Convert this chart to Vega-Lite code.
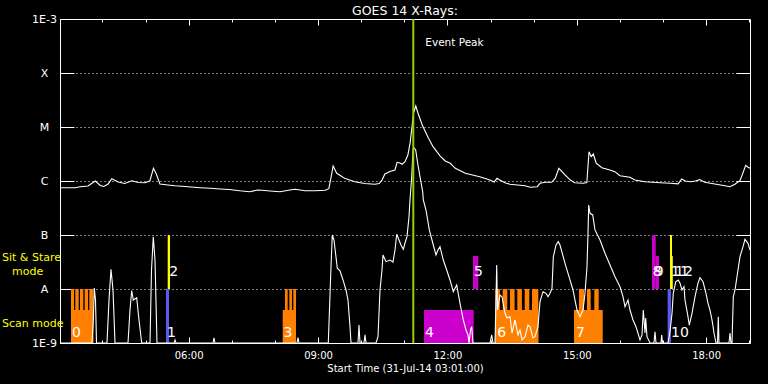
{
  "$schema": "https://vega.github.io/schema/vega-lite/v6.json",
  "width": 690,
  "height": 324,
  "autosize": {"type": "none"},
  "padding": {"left": 60, "top": 19, "right": 18, "bottom": 41},
  "background": "black",
  "title": {"text": "GOES 14 X-Rays:", "color": "white", "font": "DejaVu Sans", "fontSize": 12.5, "fontWeight": "normal", "anchor": "middle", "baseline": "alphabetic", "offset": 5, "dy": 19},
  "config": {
    "view": {"stroke": "white", "strokeWidth": 1},
    "axis": {"domain": false, "grid": false, "tickColor": "white", "tickWidth": 1, "labelColor": "white", "labelFont": "DejaVu Sans", "titleColor": "white", "titleFont": "DejaVu Sans", "titleFontWeight": "normal"}
  },
  "datasets": {
    "obs": [
      {"id": "0", "program": "P1", "t0": "2014-07-31T03:16:18", "t1": "2014-07-31T03:47:20", "lo": 1e-9, "hi": 4.08e-9},
      {"id": "0", "program": "P1", "t0": "2014-07-31T03:16:18", "t1": "2014-07-31T03:20:29", "lo": 1e-9, "hi": 1e-8},
      {"id": "0", "program": "P1", "t0": "2014-07-31T03:22:17", "t1": "2014-07-31T03:27:01", "lo": 1e-9, "hi": 1e-8},
      {"id": "0", "program": "P1", "t0": "2014-07-31T03:28:50", "t1": "2014-07-31T03:33:25", "lo": 1e-9, "hi": 1e-8},
      {"id": "0", "program": "P1", "t0": "2014-07-31T03:35:22", "t1": "2014-07-31T03:39:58", "lo": 1e-9, "hi": 1e-8},
      {"id": "0", "program": "P1", "t0": "2014-07-31T03:41:46", "t1": "2014-07-31T03:47:20", "lo": 1e-9, "hi": 1e-8},
      {"id": "1", "program": "P2", "t0": "2014-07-31T05:28:29", "t1": "2014-07-31T05:32:39", "lo": 1e-9, "hi": 1e-8},
      {"id": "2", "program": "P3", "t0": "2014-07-31T05:30:50", "t1": "2014-07-31T05:34:02", "lo": 1e-8, "hi": 1e-7},
      {"id": "3", "program": "P1", "t0": "2014-07-31T08:10:50", "t1": "2014-07-31T08:29:21", "lo": 1e-9, "hi": 4.08e-9},
      {"id": "3", "program": "P1", "t0": "2014-07-31T08:14:02", "t1": "2014-07-31T08:17:48", "lo": 1e-9, "hi": 1e-8},
      {"id": "3", "program": "P1", "t0": "2014-07-31T08:20:02", "t1": "2014-07-31T08:23:47", "lo": 1e-9, "hi": 1e-8},
      {"id": "3", "program": "P1", "t0": "2014-07-31T08:25:35", "t1": "2014-07-31T08:29:21", "lo": 1e-9, "hi": 1e-8},
      {"id": "4", "program": "P4", "t0": "2014-07-31T11:27:26", "t1": "2014-07-31T12:36:35", "lo": 1e-9, "hi": 4.08e-9},
      {"id": "5", "program": "P4", "t0": "2014-07-31T12:35:37", "t1": "2014-07-31T12:42:59", "lo": 1e-8, "hi": 4.08e-8},
      {"id": "6", "program": "P1", "t0": "2014-07-31T13:06:13", "t1": "2014-07-31T14:06:28", "lo": 1e-9, "hi": 4.08e-9},
      {"id": "6", "program": "P1", "t0": "2014-07-31T13:06:38", "t1": "2014-07-31T13:13:02", "lo": 1e-9, "hi": 1e-8},
      {"id": "6", "program": "P1", "t0": "2014-07-31T13:16:55", "t1": "2014-07-31T13:23:19", "lo": 1e-9, "hi": 1e-8},
      {"id": "6", "program": "P1", "t0": "2014-07-31T13:27:05", "t1": "2014-07-31T13:33:29", "lo": 1e-9, "hi": 1e-8},
      {"id": "6", "program": "P1", "t0": "2014-07-31T13:37:14", "t1": "2014-07-31T13:43:38", "lo": 1e-9, "hi": 1e-8},
      {"id": "6", "program": "P1", "t0": "2014-07-31T13:47:32", "t1": "2014-07-31T13:53:56", "lo": 1e-9, "hi": 1e-8},
      {"id": "6", "program": "P1", "t0": "2014-07-31T13:57:41", "t1": "2014-07-31T14:06:28", "lo": 1e-9, "hi": 1e-8},
      {"id": "7", "program": "P1", "t0": "2014-07-31T14:56:08", "t1": "2014-07-31T15:36:04", "lo": 1e-9, "hi": 4.08e-9},
      {"id": "7", "program": "P1", "t0": "2014-07-31T15:03:05", "t1": "2014-07-31T15:10:02", "lo": 1e-9, "hi": 1e-8},
      {"id": "7", "program": "P1", "t0": "2014-07-31T15:14:13", "t1": "2014-07-31T15:19:22", "lo": 1e-9, "hi": 1e-8},
      {"id": "7", "program": "P1", "t0": "2014-07-31T15:24:22", "t1": "2014-07-31T15:30:29", "lo": 1e-9, "hi": 1e-8},
      {"id": "8", "program": "P4", "t0": "2014-07-31T16:44:39", "t1": "2014-07-31T16:49:48", "lo": 1e-8, "hi": 1e-7},
      {"id": "9", "program": "P4", "t0": "2014-07-31T16:49:48", "t1": "2014-07-31T16:54:23", "lo": 1e-8, "hi": 4.08e-8},
      {"id": "10", "program": "P2", "t0": "2014-07-31T17:06:26", "t1": "2014-07-31T17:11:02", "lo": 1e-9, "hi": 1e-8},
      {"id": "11", "program": "P3", "t0": "2014-07-31T17:09:42", "t1": "2014-07-31T17:12:29", "lo": 1e-8, "hi": 1e-7},
      {"id": "12", "program": "P3", "t0": "2014-07-31T17:11:47", "t1": "2014-07-31T17:13:36", "lo": 1e-8, "hi": 4.08e-8}
    ],
    "long": [
      {"t": "2014-07-31T03:01:00", "f": 7.52e-7}, {"t": "2014-07-31T03:22:00", "f": 7.52e-7}, {"t": "2014-07-31T03:29:00", "f": 7.84e-7},
      {"t": "2014-07-31T03:40:00", "f": 8.08e-7}, {"t": "2014-07-31T03:50:00", "f": 1.0e-6}, {"t": "2014-07-31T03:57:00", "f": 8.26e-7},
      {"t": "2014-07-31T04:02:00", "f": 7.91e-7}, {"t": "2014-07-31T04:08:00", "f": 8.8e-7}, {"t": "2014-07-31T04:13:00", "f": 1.10e-6},
      {"t": "2014-07-31T04:22:00", "f": 9.58e-7}, {"t": "2014-07-31T04:31:00", "f": 8.99e-7}, {"t": "2014-07-31T04:41:00", "f": 1.01e-6},
      {"t": "2014-07-31T04:50:00", "f": 9.38e-7}, {"t": "2014-07-31T04:59:00", "f": 9.3e-7}, {"t": "2014-07-31T05:06:00", "f": 1.0e-6},
      {"t": "2014-07-31T05:11:00", "f": 1.72e-6}, {"t": "2014-07-31T05:15:00", "f": 1.35e-6}, {"t": "2014-07-31T05:20:00", "f": 8.8e-7},
      {"t": "2014-07-31T05:31:00", "f": 8.44e-7}, {"t": "2014-07-31T05:41:00", "f": 8.18e-7}, {"t": "2014-07-31T05:55:00", "f": 7.91e-7},
      {"t": "2014-07-31T06:16:00", "f": 7.52e-7}, {"t": "2014-07-31T06:30:00", "f": 7.33e-7}, {"t": "2014-07-31T06:44:00", "f": 7.11e-7},
      {"t": "2014-07-31T06:57:00", "f": 6.97e-7}, {"t": "2014-07-31T07:11:00", "f": 6.61e-7}, {"t": "2014-07-31T07:25:00", "f": 6.34e-7},
      {"t": "2014-07-31T07:36:00", "f": 6.81e-7}, {"t": "2014-07-31T07:42:00", "f": 6.73e-7}, {"t": "2014-07-31T07:53:00", "f": 6.53e-7},
      {"t": "2014-07-31T08:07:00", "f": 6.34e-7}, {"t": "2014-07-31T08:21:00", "f": 6.81e-7}, {"t": "2014-07-31T08:28:00", "f": 7.02e-7},
      {"t": "2014-07-31T08:42:00", "f": 6.61e-7}, {"t": "2014-07-31T08:56:00", "f": 6.61e-7}, {"t": "2014-07-31T09:10:00", "f": 6.73e-7},
      {"t": "2014-07-31T09:15:00", "f": 7.2e-7}, {"t": "2014-07-31T09:18:00", "f": 1.14e-6}, {"t": "2014-07-31T09:21:00", "f": 1.90e-6},
      {"t": "2014-07-31T09:26:00", "f": 1.39e-6}, {"t": "2014-07-31T09:32:00", "f": 1.24e-6}, {"t": "2014-07-31T09:37:00", "f": 1.12e-6},
      {"t": "2014-07-31T09:51:00", "f": 9.71e-7}, {"t": "2014-07-31T10:05:00", "f": 8.99e-7}, {"t": "2014-07-31T10:19:00", "f": 8.69e-7},
      {"t": "2014-07-31T10:25:00", "f": 8.99e-7}, {"t": "2014-07-31T10:29:00", "f": 1.04e-6}, {"t": "2014-07-31T10:33:00", "f": 1.35e-6},
      {"t": "2014-07-31T10:40:00", "f": 1.50e-6}, {"t": "2014-07-31T10:47:00", "f": 1.60e-6}, {"t": "2014-07-31T10:50:00", "f": 2.22e-6},
      {"t": "2014-07-31T10:54:00", "f": 2.16e-6}, {"t": "2014-07-31T10:57:00", "f": 2.04e-6}, {"t": "2014-07-31T11:01:00", "f": 2.28e-6},
      {"t": "2014-07-31T11:05:00", "f": 3.03e-6}, {"t": "2014-07-31T11:08:00", "f": 4.99e-6}, {"t": "2014-07-31T11:11:00", "f": 1.09e-5},
      {"t": "2014-07-31T11:13:00", "f": 1.82e-5}, {"t": "2014-07-31T11:16:00", "f": 2.45e-5}, {"t": "2014-07-31T11:19:00", "f": 1.82e-5},
      {"t": "2014-07-31T11:25:00", "f": 1.09e-5}, {"t": "2014-07-31T11:33:00", "f": 6.45e-6}, {"t": "2014-07-31T11:40:00", "f": 4.32e-6},
      {"t": "2014-07-31T11:50:00", "f": 2.90e-6}, {"t": "2014-07-31T11:57:00", "f": 2.35e-6}, {"t": "2014-07-31T12:04:00", "f": 2.13e-6},
      {"t": "2014-07-31T12:11:00", "f": 1.72e-6}, {"t": "2014-07-31T12:25:00", "f": 1.39e-6}, {"t": "2014-07-31T12:45:00", "f": 1.20e-6},
      {"t": "2014-07-31T12:59:00", "f": 1.04e-6}, {"t": "2014-07-31T13:05:00", "f": 9.58e-7}, {"t": "2014-07-31T13:09:00", "f": 1.12e-6},
      {"t": "2014-07-31T13:13:00", "f": 1.04e-6}, {"t": "2014-07-31T13:20:00", "f": 9.3e-7}, {"t": "2014-07-31T13:27:00", "f": 8.69e-7},
      {"t": "2014-07-31T13:48:00", "f": 8.18e-7}, {"t": "2014-07-31T13:55:00", "f": 7.64e-7}, {"t": "2014-07-31T14:05:00", "f": 7.84e-7},
      {"t": "2014-07-31T14:09:00", "f": 9.06e-7}, {"t": "2014-07-31T14:16:00", "f": 9.46e-7}, {"t": "2014-07-31T14:25:00", "f": 9.46e-7},
      {"t": "2014-07-31T14:30:00", "f": 1.12e-6}, {"t": "2014-07-31T14:35:00", "f": 1.72e-6}, {"t": "2014-07-31T14:44:00", "f": 1.29e-6},
      {"t": "2014-07-31T14:51:00", "f": 1.04e-6}, {"t": "2014-07-31T14:57:00", "f": 9.3e-7}, {"t": "2014-07-31T15:09:00", "f": 9.06e-7},
      {"t": "2014-07-31T15:14:00", "f": 9.38e-7}, {"t": "2014-07-31T15:17:00", "f": 3.49e-6}, {"t": "2014-07-31T15:20:00", "f": 2.82e-6},
      {"t": "2014-07-31T15:23:00", "f": 3.16e-6}, {"t": "2014-07-31T15:27:00", "f": 2.13e-6}, {"t": "2014-07-31T15:35:00", "f": 1.76e-6},
      {"t": "2014-07-31T15:46:00", "f": 1.60e-6}, {"t": "2014-07-31T15:53:00", "f": 1.49e-6}, {"t": "2014-07-31T16:00:00", "f": 1.25e-6},
      {"t": "2014-07-31T16:14:00", "f": 1.17e-6}, {"t": "2014-07-31T16:21:00", "f": 1.04e-6}, {"t": "2014-07-31T16:35:00", "f": 9.71e-7},
      {"t": "2014-07-31T16:56:00", "f": 9.3e-7}, {"t": "2014-07-31T17:10:00", "f": 9.06e-7}, {"t": "2014-07-31T17:21:00", "f": 8.87e-7},
      {"t": "2014-07-31T17:26:00", "f": 1.09e-6}, {"t": "2014-07-31T17:31:00", "f": 1.0e-6}, {"t": "2014-07-31T17:38:00", "f": 9.71e-7},
      {"t": "2014-07-31T17:45:00", "f": 1.0e-6}, {"t": "2014-07-31T17:51:00", "f": 1.06e-6}, {"t": "2014-07-31T17:58:00", "f": 9.46e-7},
      {"t": "2014-07-31T18:12:00", "f": 8.8e-7}, {"t": "2014-07-31T18:26:00", "f": 8.18e-7}, {"t": "2014-07-31T18:33:00", "f": 7.84e-7},
      {"t": "2014-07-31T18:40:00", "f": 8.69e-7}, {"t": "2014-07-31T18:47:00", "f": 1.01e-6}, {"t": "2014-07-31T18:51:00", "f": 1.39e-6},
      {"t": "2014-07-31T18:55:00", "f": 1.95e-6}, {"t": "2014-07-31T18:58:00", "f": 1.82e-6}, {"t": "2014-07-31T19:01:00", "f": 1.72e-6}
    ],
    "short": [
      {"t": "2014-07-31T03:01:00", "f": 1e-9}, {"t": "2014-07-31T03:45:31", "f": 1e-9}, {"t": "2014-07-31T03:47:20", "f": 2.67e-9},
      {"t": "2014-07-31T03:48:43", "f": 1.04e-8}, {"t": "2014-07-31T03:50:23", "f": 6.25e-9}, {"t": "2014-07-31T03:51:47", "f": 1e-9},
      {"t": "2014-07-31T04:06:23", "f": 1e-9}, {"t": "2014-07-31T04:09:10", "f": 6.25e-9}, {"t": "2014-07-31T04:11:58", "f": 2.32e-8},
      {"t": "2014-07-31T04:14:44", "f": 9.58e-9}, {"t": "2014-07-31T04:17:31", "f": 1e-9}, {"t": "2014-07-31T04:35:37", "f": 1e-9},
      {"t": "2014-07-31T04:38:23", "f": 4.08e-9}, {"t": "2014-07-31T04:40:46", "f": 9.31e-9}, {"t": "2014-07-31T04:42:59", "f": 6.25e-9},
      {"t": "2014-07-31T04:47:43", "f": 6.9e-9}, {"t": "2014-07-31T04:50:55", "f": 2.67e-9}, {"t": "2014-07-31T04:54:40", "f": 1e-9},
      {"t": "2014-07-31T05:06:13", "f": 1e-9}, {"t": "2014-07-31T05:08:18", "f": 2.25e-8}, {"t": "2014-07-31T05:10:49", "f": 9.31e-8},
      {"t": "2014-07-31T05:13:10", "f": 3.44e-8}, {"t": "2014-07-31T05:15:58", "f": 1e-9}, {"t": "2014-07-31T05:39:37", "f": 1e-9},
      {"t": "2014-07-31T05:41:00", "f": 1.14e-9}, {"t": "2014-07-31T05:42:23", "f": 1e-9}, {"t": "2014-07-31T06:33:52", "f": 1e-9},
      {"t": "2014-07-31T06:35:16", "f": 1.24e-9}, {"t": "2014-07-31T06:36:39", "f": 1e-9}, {"t": "2014-07-31T08:30:44", "f": 1e-9},
      {"t": "2014-07-31T08:32:08", "f": 1.26e-9}, {"t": "2014-07-31T08:33:31", "f": 1e-9}, {"t": "2014-07-31T09:14:17", "f": 1e-9},
      {"t": "2014-07-31T09:16:39", "f": 7.74e-9}, {"t": "2014-07-31T09:18:02", "f": 2.59e-8}, {"t": "2014-07-31T09:19:51", "f": 1.0e-7},
      {"t": "2014-07-31T09:22:13", "f": 8.08e-8}, {"t": "2014-07-31T09:26:49", "f": 2.42e-8}, {"t": "2014-07-31T09:30:34", "f": 2.18e-8},
      {"t": "2014-07-31T09:34:44", "f": 1.47e-8}, {"t": "2014-07-31T09:38:55", "f": 9.58e-9}, {"t": "2014-07-31T09:41:41", "f": 6.25e-9},
      {"t": "2014-07-31T09:44:29", "f": 2.0e-9}, {"t": "2014-07-31T09:45:52", "f": 1e-9}, {"t": "2014-07-31T09:55:37", "f": 1e-9},
      {"t": "2014-07-31T09:57:00", "f": 2.15e-9}, {"t": "2014-07-31T09:58:23", "f": 1e-9}, {"t": "2014-07-31T10:03:58", "f": 1e-9},
      {"t": "2014-07-31T10:05:21", "f": 1.41e-9}, {"t": "2014-07-31T10:06:44", "f": 1e-9}, {"t": "2014-07-31T10:20:39", "f": 1e-9},
      {"t": "2014-07-31T10:23:26", "f": 1.31e-9}, {"t": "2014-07-31T10:26:13", "f": 9.58e-9}, {"t": "2014-07-31T10:29:00", "f": 2.25e-8},
      {"t": "2014-07-31T10:30:23", "f": 4.26e-8}, {"t": "2014-07-31T10:34:34", "f": 3.21e-8}, {"t": "2014-07-31T10:40:08", "f": 3.44e-8},
      {"t": "2014-07-31T10:44:18", "f": 3.16e-8}, {"t": "2014-07-31T10:47:05", "f": 5.28e-8}, {"t": "2014-07-31T10:49:27", "f": 1.03e-7},
      {"t": "2014-07-31T10:52:39", "f": 8.08e-8}, {"t": "2014-07-31T10:55:26", "f": 6.53e-8}, {"t": "2014-07-31T10:58:38", "f": 5.44e-8},
      {"t": "2014-07-31T11:01:00", "f": 7.11e-8}, {"t": "2014-07-31T11:03:47", "f": 9.31e-8}, {"t": "2014-07-31T11:06:34", "f": 2.18e-7},
      {"t": "2014-07-31T11:07:57", "f": 4.45e-7}, {"t": "2014-07-31T11:10:19", "f": 1.20e-6}, {"t": "2014-07-31T11:12:08", "f": 3.75e-6},
      {"t": "2014-07-31T11:13:31", "f": 4.08e-6}, {"t": "2014-07-31T11:15:53", "f": 3.75e-6}, {"t": "2014-07-31T11:18:40", "f": 2.13e-6},
      {"t": "2014-07-31T11:21:52", "f": 1.20e-6}, {"t": "2014-07-31T11:25:37", "f": 6.34e-7}, {"t": "2014-07-31T11:26:28", "f": 4.45e-7},
      {"t": "2014-07-31T11:30:13", "f": 2.9e-7}, {"t": "2014-07-31T11:34:49", "f": 1.24e-7}, {"t": "2014-07-31T11:40:22", "f": 6.53e-8},
      {"t": "2014-07-31T11:44:08", "f": 4.26e-8}, {"t": "2014-07-31T11:46:55", "f": 5.28e-8}, {"t": "2014-07-31T11:49:41", "f": 6.07e-8},
      {"t": "2014-07-31T11:54:17", "f": 3.44e-8}, {"t": "2014-07-31T11:59:01", "f": 2.25e-8}, {"t": "2014-07-31T12:03:37", "f": 1.47e-8},
      {"t": "2014-07-31T12:08:12", "f": 8.91e-9}, {"t": "2014-07-31T12:12:56", "f": 1.19e-8}, {"t": "2014-07-31T12:17:31", "f": 5.43e-9},
      {"t": "2014-07-31T12:22:07", "f": 2.67e-9}, {"t": "2014-07-31T12:25:52", "f": 1.74e-9}, {"t": "2014-07-31T12:28:39", "f": 1.41e-9},
      {"t": "2014-07-31T12:30:02", "f": 1e-9}, {"t": "2014-07-31T12:32:08", "f": 1.74e-9}, {"t": "2014-07-31T12:33:48", "f": 2.0e-9},
      {"t": "2014-07-31T12:35:37", "f": 1e-9}, {"t": "2014-07-31T12:59:16", "f": 1e-9}, {"t": "2014-07-31T13:01:38", "f": 1.41e-9},
      {"t": "2014-07-31T13:03:26", "f": 1e-9}, {"t": "2014-07-31T13:06:13", "f": 1e-9}, {"t": "2014-07-31T13:07:37", "f": 6.25e-9},
      {"t": "2014-07-31T13:08:35", "f": 2.78e-8}, {"t": "2014-07-31T13:09:42", "f": 4.08e-9}, {"t": "2014-07-31T13:13:10", "f": 7.74e-9},
      {"t": "2014-07-31T13:15:57", "f": 7.2e-9}, {"t": "2014-07-31T13:20:08", "f": 3.55e-9}, {"t": "2014-07-31T13:22:55", "f": 2.9e-9},
      {"t": "2014-07-31T13:27:05", "f": 3.07e-9}, {"t": "2014-07-31T13:29:52", "f": 1.53e-9}, {"t": "2014-07-31T13:34:02", "f": 2.67e-9},
      {"t": "2014-07-31T13:38:13", "f": 1.41e-9}, {"t": "2014-07-31T13:41:00", "f": 1.74e-9}, {"t": "2014-07-31T13:43:47", "f": 1.14e-9},
      {"t": "2014-07-31T13:47:58", "f": 1.31e-9}, {"t": "2014-07-31T13:52:08", "f": 2.15e-9}, {"t": "2014-07-31T13:54:55", "f": 2.0e-9},
      {"t": "2014-07-31T13:59:05", "f": 1.24e-9}, {"t": "2014-07-31T14:01:52", "f": 1.31e-9}, {"t": "2014-07-31T14:06:02", "f": 2.0e-9},
      {"t": "2014-07-31T14:08:49", "f": 5.82e-9}, {"t": "2014-07-31T14:13:00", "f": 8.91e-9}, {"t": "2014-07-31T14:17:10", "f": 8.32e-9},
      {"t": "2014-07-31T14:19:57", "f": 7.2e-9}, {"t": "2014-07-31T14:22:44", "f": 8.32e-9}, {"t": "2014-07-31T14:25:31", "f": 1.03e-8},
      {"t": "2014-07-31T14:27:20", "f": 3.92e-8}, {"t": "2014-07-31T14:31:05", "f": 6.53e-8}, {"t": "2014-07-31T14:34:17", "f": 7.52e-8},
      {"t": "2014-07-31T14:36:39", "f": 6.53e-8}, {"t": "2014-07-31T14:43:37", "f": 2.99e-8}, {"t": "2014-07-31T14:50:34", "f": 1.47e-8},
      {"t": "2014-07-31T14:54:44", "f": 9.58e-9}, {"t": "2014-07-31T14:57:31", "f": 6.25e-9}, {"t": "2014-07-31T15:00:18", "f": 4.08e-9},
      {"t": "2014-07-31T15:04:29", "f": 3.07e-9}, {"t": "2014-07-31T15:08:39", "f": 4.08e-9}, {"t": "2014-07-31T15:11:26", "f": 8.32e-9},
      {"t": "2014-07-31T15:14:13", "f": 2.59e-8}, {"t": "2014-07-31T15:15:37", "f": 1.07e-7}, {"t": "2014-07-31T15:16:35", "f": 3.6e-7},
      {"t": "2014-07-31T15:18:23", "f": 2.52e-7}, {"t": "2014-07-31T15:22:09", "f": 2.35e-7}, {"t": "2014-07-31T15:25:21", "f": 1.24e-7},
      {"t": "2014-07-31T15:32:18", "f": 8.08e-8}, {"t": "2014-07-31T15:39:16", "f": 4.58e-8}, {"t": "2014-07-31T15:46:13", "f": 2.78e-8},
      {"t": "2014-07-31T15:53:10", "f": 1.69e-8}, {"t": "2014-07-31T16:00:08", "f": 1.10e-8}, {"t": "2014-07-31T16:04:18", "f": 7.2e-9},
      {"t": "2014-07-31T16:07:05", "f": 4.7e-9}, {"t": "2014-07-31T16:11:16", "f": 6.25e-9}, {"t": "2014-07-31T16:14:02", "f": 4.08e-9},
      {"t": "2014-07-31T16:18:13", "f": 2.67e-9}, {"t": "2014-07-31T16:22:23", "f": 2.0e-9}, {"t": "2014-07-31T16:27:58", "f": 1.14e-9},
      {"t": "2014-07-31T16:30:44", "f": 1.41e-9}, {"t": "2014-07-31T16:32:33", "f": 4.08e-9}, {"t": "2014-07-31T16:34:55", "f": 1.53e-9},
      {"t": "2014-07-31T16:35:53", "f": 2.9e-9}, {"t": "2014-07-31T16:37:42", "f": 1.31e-9}, {"t": "2014-07-31T16:41:52", "f": 1e-9},
      {"t": "2014-07-31T16:47:26", "f": 1e-9}, {"t": "2014-07-31T16:48:49", "f": 1.62e-9}, {"t": "2014-07-31T16:50:13", "f": 1e-9},
      {"t": "2014-07-31T16:57:10", "f": 1e-9}, {"t": "2014-07-31T16:58:09", "f": 1.41e-9}, {"t": "2014-07-31T16:59:16", "f": 1e-9},
      {"t": "2014-07-31T17:06:55", "f": 1e-9}, {"t": "2014-07-31T17:09:42", "f": 1.62e-9}, {"t": "2014-07-31T17:12:29", "f": 3.55e-9},
      {"t": "2014-07-31T17:14:17", "f": 8.32e-9}, {"t": "2014-07-31T17:17:38", "f": 1.36e-8}, {"t": "2014-07-31T17:21:15", "f": 1.47e-8},
      {"t": "2014-07-31T17:23:37", "f": 1.28e-8}, {"t": "2014-07-31T17:26:23", "f": 9.58e-9}, {"t": "2014-07-31T17:29:10", "f": 1.10e-8},
      {"t": "2014-07-31T17:30:34", "f": 6.25e-9}, {"t": "2014-07-31T17:34:44", "f": 3.07e-9}, {"t": "2014-07-31T17:36:33", "f": 2.15e-9},
      {"t": "2014-07-31T17:40:18", "f": 3.55e-9}, {"t": "2014-07-31T17:44:29", "f": 7.2e-9}, {"t": "2014-07-31T17:48:39", "f": 1.28e-8},
      {"t": "2014-07-31T17:51:26", "f": 1.62e-8}, {"t": "2014-07-31T17:55:37", "f": 1.36e-8}, {"t": "2014-07-31T17:59:47", "f": 8.32e-9},
      {"t": "2014-07-31T18:02:34", "f": 5.43e-9}, {"t": "2014-07-31T18:05:21", "f": 4.08e-9}, {"t": "2014-07-31T18:08:08", "f": 2.67e-9},
      {"t": "2014-07-31T18:10:55", "f": 1.53e-9}, {"t": "2014-07-31T18:13:42", "f": 1e-9}, {"t": "2014-07-31T18:15:47", "f": 1e-9},
      {"t": "2014-07-31T18:16:54", "f": 3.07e-9}, {"t": "2014-07-31T18:17:52", "f": 1e-9}, {"t": "2014-07-31T18:31:47", "f": 1e-9},
      {"t": "2014-07-31T18:33:10", "f": 1.53e-9}, {"t": "2014-07-31T18:34:34", "f": 1e-9}, {"t": "2014-07-31T18:35:58", "f": 1e-9},
      {"t": "2014-07-31T18:37:46", "f": 7.2e-9}, {"t": "2014-07-31T18:40:08", "f": 9.58e-9}, {"t": "2014-07-31T18:44:18", "f": 2.25e-8},
      {"t": "2014-07-31T18:47:05", "f": 3.96e-8}, {"t": "2014-07-31T18:51:16", "f": 6.07e-8}, {"t": "2014-07-31T18:54:02", "f": 8.32e-8},
      {"t": "2014-07-31T18:58:13", "f": 7.02e-8}, {"t": "2014-07-31T19:01:00", "f": 5.28e-8}
    ],
    "ids": [
      {"id": "0", "t": "2014-07-31T03:17:42", "f": 1.53e-9},
      {"id": "1", "t": "2014-07-31T05:29:52", "f": 1.53e-9},
      {"id": "2", "t": "2014-07-31T05:32:54", "f": 2.07e-8},
      {"id": "3", "t": "2014-07-31T08:11:57", "f": 1.53e-9},
      {"id": "4", "t": "2014-07-31T11:28:48", "f": 1.53e-9},
      {"id": "5", "t": "2014-07-31T12:37:00", "f": 2.07e-8},
      {"id": "6", "t": "2014-07-31T13:09:24", "f": 1.53e-9},
      {"id": "7", "t": "2014-07-31T14:58:54", "f": 1.53e-9},
      {"id": "8", "t": "2014-07-31T16:45:42", "f": 2.07e-8},
      {"id": "9", "t": "2014-07-31T16:48:30", "f": 2.07e-8},
      {"id": "10", "t": "2014-07-31T17:11:05", "f": 1.53e-9},
      {"id": "11", "t": "2014-07-31T17:11:05", "f": 2.07e-8},
      {"id": "12", "t": "2014-07-31T17:16:42", "f": 2.07e-8}
    ],
    "event": [{"label": "Event Peak", "t": "2014-07-31T11:12:32", "f": 3.59e-4}],
    "modes": [
      {"text": "Sit & Stare", "t": "2014-07-31T01:40:18", "f": 3.75e-8},
      {"text": "mode", "t": "2014-07-31T01:54:13", "f": 2.07e-8},
      {"text": "Scan mode", "t": "2014-07-31T01:40:18", "f": 2.25e-9}
    ]
  },
  "layer": [
    {
      "data": {"name": "obs"},
      "mark": {"type": "rect"},
      "encoding": {
        "x": {"field": "t0", "type": "temporal",
          "scale": {"domain": [{"year": 2014, "month": 7, "date": 31, "hours": 3, "minutes": 1}, {"year": 2014, "month": 7, "date": 31, "hours": 19, "minutes": 1}]},
          "axis": {"orient": "bottom", "values": [{"year": 2014, "month": 7, "date": 31, "hours": 6}, {"year": 2014, "month": 7, "date": 31, "hours": 9}, {"year": 2014, "month": 7, "date": 31, "hours": 12}, {"year": 2014, "month": 7, "date": 31, "hours": 15}, {"year": 2014, "month": 7, "date": 31, "hours": 18}],
            "format": "%H:%M", "tickSize": -6, "labelPadding": 18, "labelBaseline": "middle", "labelFontSize": 10, "labelFlush": false,
            "title": "Start Time (31-Jul-14 03:01:00)", "titleFontSize": 10, "titleY": 25, "titleBaseline": "middle"}},
        "x2": {"field": "t1"},
        "y": {"field": "lo", "type": "quantitative",
          "scale": {"type": "log", "domain": [1e-9, 1e-3], "nice": false},
          "axis": {"orient": "left", "values": [1e-9, 1e-8, 1e-7, 1e-6, 1e-5, 1e-4, 1e-3],
            "labelExpr": "datum.value >= 9e-4 ? '1E-3' : datum.value >= 9e-5 ? 'X' : datum.value >= 9e-6 ? 'M' : datum.value >= 9e-7 ? 'C' : datum.value >= 9e-8 ? 'B' : datum.value >= 9e-9 ? 'A' : '1E-9'",
            "tickSize": -14, "labelPadding": 30, "labelAlign": "center", "labelBaseline": "middle", "labelFontSize": 11, "labelFlush": false, "labelOverlap": false,
            "grid": true, "gridColor": "white", "gridDash": [1, 3], "gridWidth": 1, "title": null}},
        "y2": {"field": "hi"},
        "color": {"field": "program", "type": "nominal", "scale": {"domain": ["P1", "P2", "P3", "P4"], "range": ["#ff8000", "#5a5af0", "#ffff00", "#cc00cc"]}, "legend": null}
      }
    },
    {
      "data": {"name": "long"},
      "mark": {"type": "line", "color": "white", "strokeWidth": 1.1},
      "encoding": {
        "x": {"field": "t", "type": "temporal",
          "axis": {"orient": "top", "values": [{"year": 2014, "month": 7, "date": 31, "hours": 6}, {"year": 2014, "month": 7, "date": 31, "hours": 9}, {"year": 2014, "month": 7, "date": 31, "hours": 12}, {"year": 2014, "month": 7, "date": 31, "hours": 15}, {"year": 2014, "month": 7, "date": 31, "hours": 18}],
            "tickSize": -6, "labels": false, "title": null}},
        "y": {"field": "f", "type": "quantitative",
          "axis": {"orient": "right", "values": [1e-8, 1e-7, 1e-6, 1e-5, 1e-4], "tickSize": -14, "labels": false, "title": null}}
      }
    },
    {
      "data": {"name": "short"},
      "mark": {"type": "line", "color": "white", "strokeWidth": 1.1},
      "encoding": {
        "x": {"field": "t", "type": "temporal",
          "axis": {"orient": "bottom", "values": [{"year": 2014, "month": 7, "date": 31, "hours": 4}, {"year": 2014, "month": 7, "date": 31, "hours": 5}, {"year": 2014, "month": 7, "date": 31, "hours": 6}, {"year": 2014, "month": 7, "date": 31, "hours": 7}, {"year": 2014, "month": 7, "date": 31, "hours": 8}, {"year": 2014, "month": 7, "date": 31, "hours": 9}, {"year": 2014, "month": 7, "date": 31, "hours": 10}, {"year": 2014, "month": 7, "date": 31, "hours": 11}, {"year": 2014, "month": 7, "date": 31, "hours": 12}, {"year": 2014, "month": 7, "date": 31, "hours": 13}, {"year": 2014, "month": 7, "date": 31, "hours": 14}, {"year": 2014, "month": 7, "date": 31, "hours": 15}, {"year": 2014, "month": 7, "date": 31, "hours": 16}, {"year": 2014, "month": 7, "date": 31, "hours": 17}, {"year": 2014, "month": 7, "date": 31, "hours": 18}, {"year": 2014, "month": 7, "date": 31, "hours": 19}],
            "tickSize": -3, "labels": false, "title": null}},
        "y": {"field": "f", "type": "quantitative", "axis": null}
      }
    },
    {
      "data": {"name": "event"},
      "mark": {"type": "rule", "color": "#9bcd00", "strokeWidth": 2},
      "encoding": {
        "x": {"field": "t", "type": "temporal",
          "axis": {"orient": "top", "values": [{"year": 2014, "month": 7, "date": 31, "hours": 4}, {"year": 2014, "month": 7, "date": 31, "hours": 5}, {"year": 2014, "month": 7, "date": 31, "hours": 6}, {"year": 2014, "month": 7, "date": 31, "hours": 7}, {"year": 2014, "month": 7, "date": 31, "hours": 8}, {"year": 2014, "month": 7, "date": 31, "hours": 9}, {"year": 2014, "month": 7, "date": 31, "hours": 10}, {"year": 2014, "month": 7, "date": 31, "hours": 11}, {"year": 2014, "month": 7, "date": 31, "hours": 12}, {"year": 2014, "month": 7, "date": 31, "hours": 13}, {"year": 2014, "month": 7, "date": 31, "hours": 14}, {"year": 2014, "month": 7, "date": 31, "hours": 15}, {"year": 2014, "month": 7, "date": 31, "hours": 16}, {"year": 2014, "month": 7, "date": 31, "hours": 17}, {"year": 2014, "month": 7, "date": 31, "hours": 18}, {"year": 2014, "month": 7, "date": 31, "hours": 19}],
            "tickSize": -3, "labels": false, "title": null}}
      }
    },
    {
      "data": {"name": "ids"},
      "mark": {"type": "text", "color": "white", "font": "DejaVu Sans", "fontSize": 14, "align": "left", "baseline": "middle"},
      "encoding": {
        "x": {"field": "t", "type": "temporal", "axis": null},
        "y": {"field": "f", "type": "quantitative", "axis": null},
        "text": {"field": "id"}
      }
    },
    {
      "data": {"name": "event"},
      "mark": {"type": "text", "color": "white", "font": "DejaVu Sans", "fontSize": 10.5, "align": "left", "baseline": "middle", "dx": 12},
      "encoding": {
        "x": {"field": "t", "type": "temporal", "axis": null},
        "y": {"field": "f", "type": "quantitative", "axis": null},
        "text": {"field": "label"}
      }
    },
    {
      "data": {"name": "modes"},
      "mark": {"type": "text", "color": "#ffff00", "font": "DejaVu Sans", "fontSize": 11, "align": "left", "baseline": "middle"},
      "encoding": {
        "x": {"field": "t", "type": "temporal", "axis": null},
        "y": {"field": "f", "type": "quantitative", "axis": null},
        "text": {"field": "text"}
      }
    }
  ],
  "resolve": {"axis": {"x": "independent", "y": "independent"}}
}
